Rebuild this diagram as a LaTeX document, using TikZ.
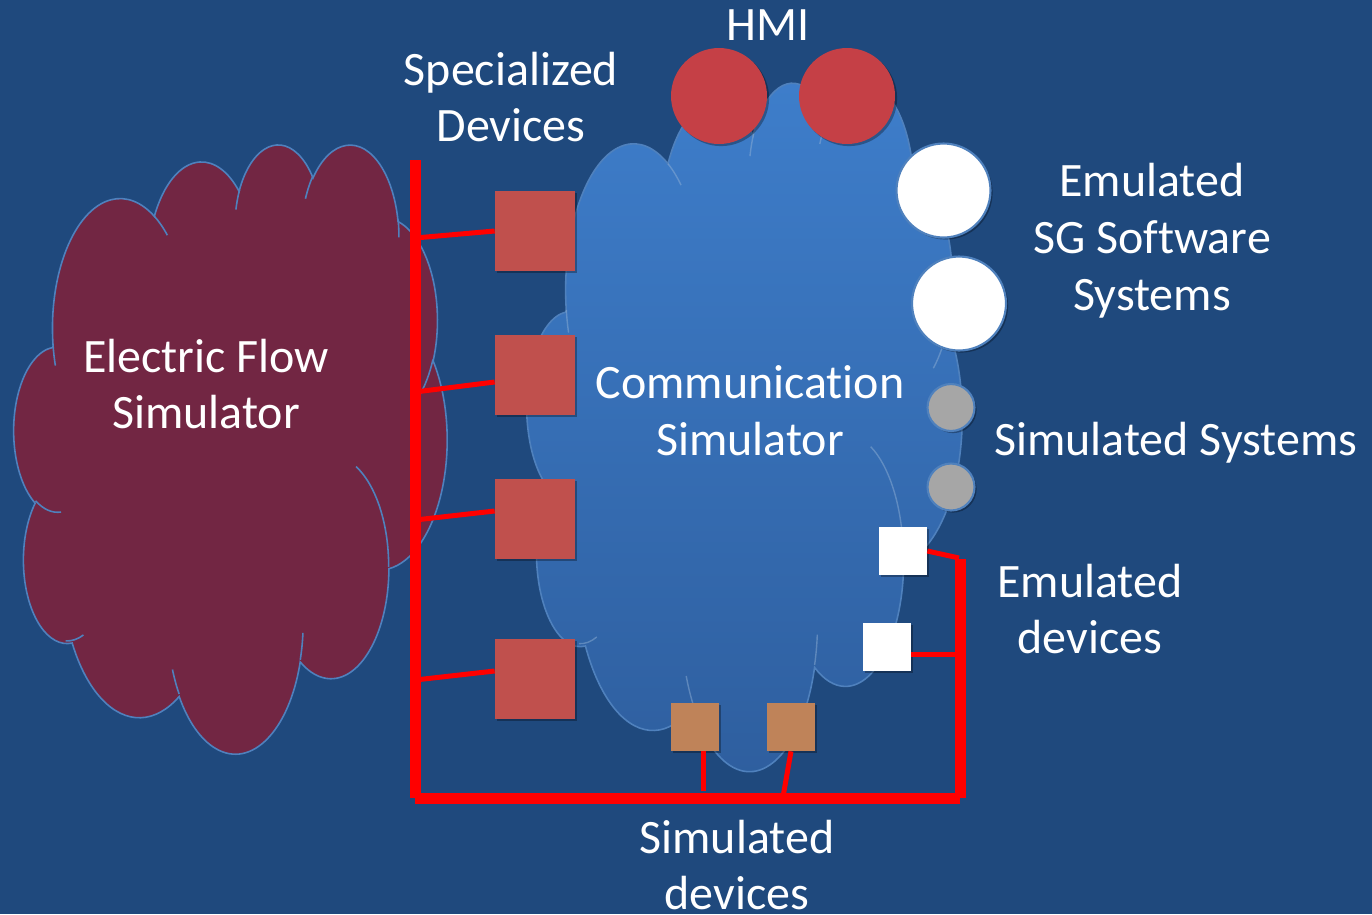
\documentclass[tikz,border=0pt]{standalone}
\usepackage{fontspec}
\setmainfont{Carlito}[Ligatures=NoCommon]
\usetikzlibrary{calc,shadows}

\definecolor{bgblue}{RGB}{31,73,125}
\definecolor{efill}{RGB}{114,38,67}
\definecolor{cloudline}{RGB}{79,129,189}
\definecolor{commtop}{RGB}{62,126,203}
\definecolor{commbot}{RGB}{46,94,158}
\definecolor{specred}{RGB}{192,80,77}
\definecolor{hmired}{RGB}{197,64,70}
\definecolor{simbrown}{RGB}{191,131,89}
\definecolor{simgray}{RGB}{166,166,166}
\definecolor{busred}{RGB}{255,0,0}

% Cloud outline on a 43.2 x 43.2 grid, y pointing down
\newcommand\cloudshape[1]{%
  \path[#1] (3.900,14.370)
    arc[start angle=-187.745, end angle=-59.637, x radius=6.753, y radius=9.190]
    arc[start angle=-152.04, end angle=-45.459, x radius=5.333, y radius=7.267]
    arc[start angle=-153.49, end angle=-37.33, x radius=4.365, y radius=5.945]
    arc[start angle=-139.72, end angle=-10.21, x radius=4.857, y radius=6.595]
    arc[start angle=-74.77, end angle=23.21, x radius=5.333, y radius=7.273]
    arc[start angle=-37.53, end angle=81.86, x radius=6.775, y radius=9.220]
    arc[start angle=0.46, end angle=121.97, x radius=5.785, y radius=7.867]
    arc[start angle=16.84, end angle=146.23, x radius=6.752, y radius=9.215]
    arc[start angle=58.98, end angle=150.20, x radius=7.720, y radius=10.543]
    arc[start angle=-276.69, end angle=-136.90, x radius=4.360, y radius=5.918]
    arc[start angle=-239.65, end angle=-95.89, x radius=4.345, y radius=5.945]
    -- cycle;}
% Inner folds of the cloud
\newcommand\cloudfolds[1]{%
  \draw[#1]
    (4.693,26.177) arc[start angle=85.546, end angle=120.35, x radius=4.345, y radius=5.945]
    (6.928,34.899) arc[start angle=68.24, end angle=92.11, x radius=4.360, y radius=5.918]
    (16.478,39.090) arc[start angle=146.23, end angle=158.47, x radius=6.752, y radius=9.215]
    (28.827,34.751) arc[start angle=4.737, end angle=16.84, x radius=6.752, y radius=9.215]
    (34.129,22.954) arc[start angle=-64.03, end angle=0.46, x radius=5.785, y radius=7.867]
    (41.798,15.354) arc[start angle=23.21, end angle=49.64, x radius=5.333, y radius=7.273]
    (38.324,5.426) arc[start angle=-10.21, end angle=0.82, x radius=4.857, y radius=6.595]
    (29.078,3.952) arc[start angle=-156.30, end angle=-139.72, x radius=4.857, y radius=6.595]
    (22.141,4.720) arc[start angle=-167.73, end angle=-153.49, x radius=4.365, y radius=5.945]
    (14.000,5.192) arc[start angle=-59.64, end angle=-45.74, x radius=6.753, y radius=9.190]
    (4.127,15.789) arc[start angle=163.19, end angle=172.25, x radius=6.753, y radius=9.190];}

\tikzset{
  txt/.style={text=white, font=\fontsize{27.3}{32.4}\selectfont, inner sep=0pt, align=center},
  softshadow/.style={general shadow={fill=black, opacity=0.3, shadow xshift=1.2pt, shadow yshift=-1.2pt}},
  specbox/.style={rectangle, fill=specred, minimum size=1.6cm, inner sep=0pt, softshadow},
  simbox/.style={rectangle, fill=simbrown, minimum size=0.96cm, inner sep=0pt, softshadow},
  emubox/.style={rectangle, fill=white, minimum size=0.96cm, inner sep=0pt, softshadow},
  hmidot/.style={circle, fill=hmired, minimum size=1.92cm, inner sep=0pt, softshadow},
  swdot/.style={circle, fill=white, draw=cloudline, line width=1.2pt, minimum size=1.88cm, inner sep=0pt, softshadow},
  sysdot/.style={circle, fill=simgray, draw=cloudline, line width=1.2pt, minimum size=0.94cm, inner sep=0pt, softshadow},
  bus/.style={draw=busred, line width=0.22cm},
  link/.style={draw=busred, line width=0.1cm},
}

\begin{document}
\begin{tikzpicture}[x=0.02cm, y=-0.02cm]
\useasboundingbox (0,0) rectangle (1372,914);
\fill[bgblue] (0,0) rectangle (1372,914);

% Electric flow cloud
\begin{scope}[shift={(14,143)}, xscale=10.023, yscale=14.097]
  \cloudshape{fill=efill, draw=cloudline, line width=0.9pt}
  \cloudfolds{cloudline, line width=0.9pt}
\end{scope}

% Communication cloud
\begin{scope}[shift={(527,81)}, xscale=10.07, yscale=15.93]
  \cloudshape{top color=commtop, bottom color=commbot, draw=cloudline, line width=0.9pt}
  \cloudfolds{cloudline!60!white, opacity=0.45, line width=0.8pt}
\end{scope}

% Bus lines
\coordinate (busTop) at (415,160);
\coordinate (busBL) at (415,798);
\coordinate (busBLh) at (415,798.5);
\coordinate (busBRh) at (960,798.5);
\coordinate (busBR) at (960,798);
\coordinate (busRT) at (960,559);
\draw[bus] (busTop) -- (busBL);
\draw[bus] (busBLh) -- (busBRh);
\draw[bus] (busRT) -- (busBR);

% Specialized devices
\node[specbox] (s1) at (535,231) {};
\node[specbox] (s2) at (535,375) {};
\node[specbox] (s3) at (535,519) {};
\node[specbox] (s4) at (535,679) {};

% Simulated devices
\node[simbox] (b1) at (695,727) {};
\node[simbox] (b2) at (791,727) {};

% Emulated devices
\node[emubox] (e1) at (903,551) {};
\node[emubox] (e2) at (887,647) {};

% HMI
\node[hmidot] (h1) at (719,96) {};
\node[hmidot] (h2) at (847,96) {};

% Emulated SG software systems
\node[swdot] (w1) at (943.5,190.5) {};
\node[swdot] (w2) at (959,303.5) {};

% Simulated systems
\node[sysdot] (g1) at (951,407.5) {};
\node[sysdot] (g2) at (951,487) {};

% Taps on the bus
\coordinate (t1) at (415,238);
\coordinate (t2) at (415,392);
\coordinate (t3) at (415,520);
\coordinate (t4) at (415,680);
\coordinate (t5) at (703,791);
\coordinate (t6) at (783,797);
\coordinate (t7) at (959,558);
\coordinate (t8) at (956,654);

\draw[link] (t1) -- (s1.west);
\draw[link] (t2) -- ($(s2.west)+(0,7)$);
\draw[link] (t3) -- ($(s3.west)+(0,-8)$);
\draw[link] (t4) -- ($(s4.west)+(0,-8)$);
\draw[link] ($(b1.south)+(8,0)$) -- (t5);
\draw[link] (b2.south) -- (t6);
\draw[link] (e1.east) -- (t7);
\draw[link] ($(e2.east)+(0,7)$) -- (t8);

% Labels
\node[txt, anchor=base] (lhmi) at (768,40) {HMI};
\node[txt] (lspec) at (511,97) {Specialized\\Devices};
\node[txt] (lelec) at (206,384) {Electric Flow\\Simulator};
\node[txt] (lcomm) at (750,411) {Communication\\Simulator};
\node[txt] (lsw) at (1152,240.5) {Emulated\\SG Software\\Systems};
\node[txt, anchor=base west] (lsys) at (994,455) {Simulated Systems};
\node[txt] (lemu) at (1090,609) {Emulated\\devices};
\node[txt] (lsim) at (737,865) {Simulated\\devices};
\end{tikzpicture}
\end{document}
